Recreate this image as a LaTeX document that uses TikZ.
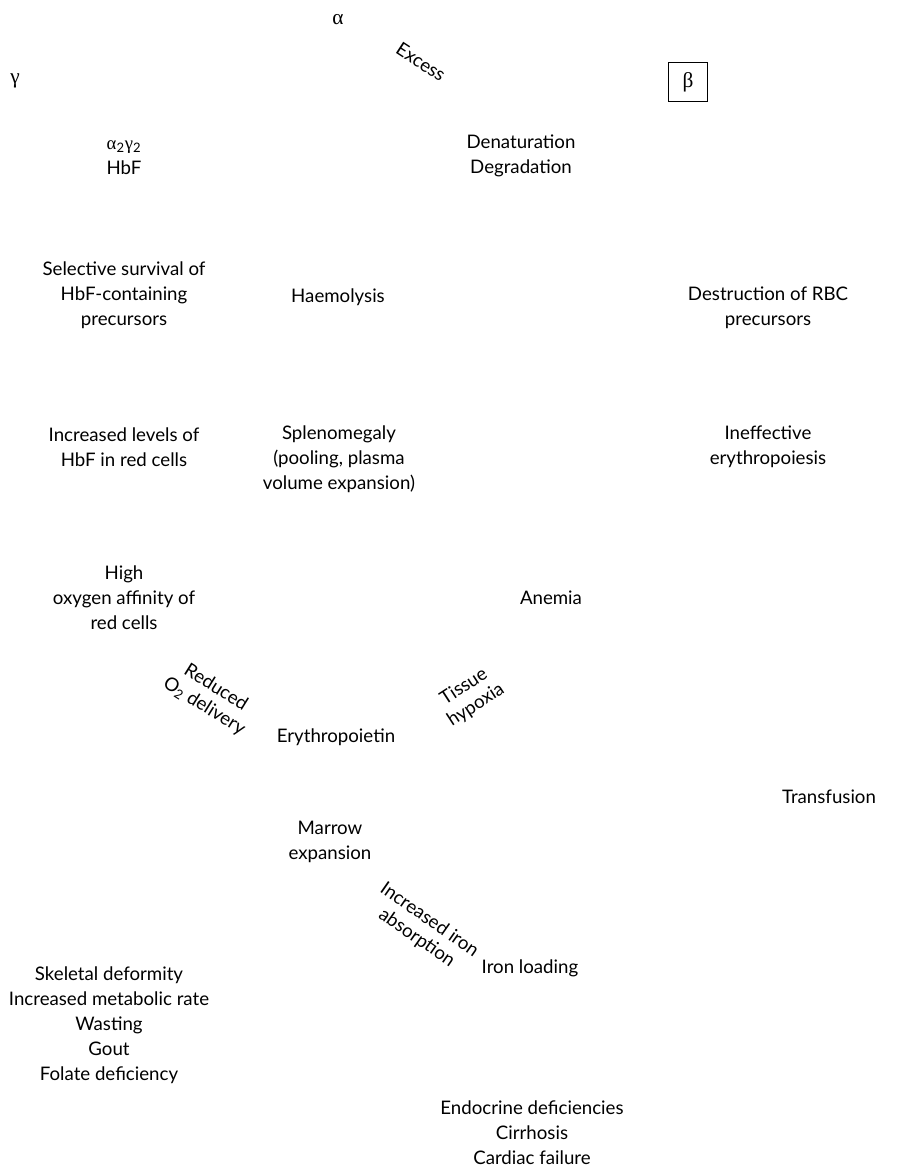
\documentclass[tikz,border=0pt]{standalone}
\usepackage{fontspec}
\setmainfont{Lato}
\newfontfamily\greekfont{Liberation Serif}
\usepackage{tikz}
\usetikzlibrary{positioning}
\tikzset{
    label/.style={
        align=center,
        inner sep=1pt,
        font=\fontsize{14}{18.7}\selectfont
    },
    greek/.style={
        inner sep=1pt,
        font=\fontsize{16}{20}\selectfont\greekfont
    },
    chainbox/.style={
        greek,
        rectangle,
        draw=black,
        thin,
        minimum width=29pt,
        minimum height=29pt
    },
    slanted/.style={
        label,
        font=\fontsize{14}{16.5}\selectfont,
        rotate=#1
    }
}
\newcommand{\sub}[1]{\textsubscript{#1}}

\begin{document}
\begin{tikzpicture}[x=0.75pt, y=-0.75pt]
\useasboundingbox (0,0) rectangle (897,1168);

% globin chains
\node[greek] (alpha) at (338,20) {α};
\node[greek] (gamma) at (15,81) {γ};
\node[chainbox] (beta) at (688,82) {β};
\node[slanted=-33] (excess) at (421,62) {Excess};

% top row
\node[label] (hbf) at (124,158) {{\greekfont α}\sub{2}{\greekfont γ}\sub{2}\\HbF};
\node[label] (denat) at (521,156) {Denaturation\\Degradation};

\node[label] (survival) at (124,295) {Selective survival of\\HbF-containing\\precursors};
\node[label] (haemo) at (338,297) {Haemolysis};
\node[label] (destr) at (768,308) {Destruction of RBC\\precursors};

\node[label] (levels) at (124,447) {Increased levels of\\HbF in red cells};
\node[label] (spleen) at (339,459) {Splenomegaly\\(pooling, plasma\\volume expansion)};
\node[label] (ineff) at (768,447) {Ineffective\\erythropoiesis};

\node[label] (affinity) at (124,598) {High\\oxygen affinity of\\red cells};
\node[label] (anemia) at (551,598) {Anemia};

% middle
\node[slanted=-32] (reduced) at (210,697) {Reduced\\O\sub{2} delivery};
\node[slanted=33] (hypoxia) at (470,696) {Tissue\\hypoxia};
\node[label] (epo) at (336,737) {Erythropoietin};
\node[label] (transf) at (829,797) {Transfusion};
\node[label] (marrow) at (330,842) {Marrow\\expansion};

% bottom
\node[slanted=-35] (ironabs) at (423,929) {Increased iron\\absorption};
\node[label] (ironload) at (530,968) {Iron loading};
\node[label] (skeletal) at (109,1025) {Skeletal deformity\\Increased metabolic rate\\Wasting\\Gout\\Folate deficiency};
\node[label] (endo) at (532,1133) {Endocrine deficiencies\\Cirrhosis\\Cardiac failure};

\end{tikzpicture}
\end{document}
